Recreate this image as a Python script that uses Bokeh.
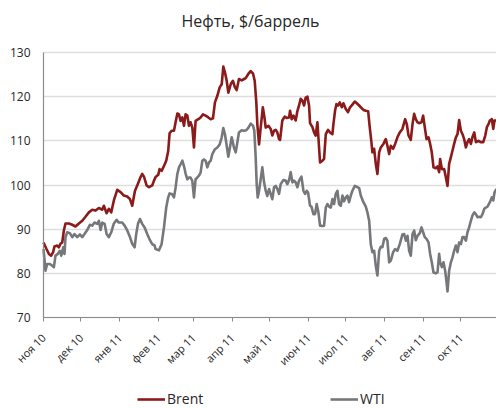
import numpy as np
from bokeh.plotting import figure
from bokeh.models import FixedTicker, Legend, LegendItem, Range1d, Label
from bokeh.embed import file_html
from bokeh.resources import INLINE

title_text = "Нефть, $/баррель"

# x values: days since 2010-11-15
brent_day = [0, 2.4, 4.3, 6.1, 7.7, 8.8, 11, 12.3, 13.6, 15, 16.3, 17.6, 20.3, 23, 25.6, 28.3,
             31, 33.6, 36.3, 39, 41.7, 44.3, 47, 48.3, 50.5, 52.3, 54.2, 56.3, 59, 61.7, 64.3,
             67, 69.2, 71, 73.2, 75, 77.7, 79, 80.4, 82.5, 84.4, 87, 88.4,
             89.7, 91.8, 92.9, 94.5, 96.4, 98.2, 99.8, 100.9, 102.5, 104.4, 105.7, 107.1, 108.4,
             109.7, 111.1, 112.4, 113.7, 115.1, 116.4, 117.7, 119.1, 120.4, 121.7, 123.9, 125.7,
             127.6, 129.7, 131.9, 133.8, 135.6, 137.2, 139.1, 141, 142.6, 143.9, 145.2, 146.6,
             147.9, 149.8, 151.6, 153.2, 154.6, 156.4, 158.6, 160.5, 161.8, 164, 165.8, 167.7,
             169, 170.3, 171.1, 172.5, 173.8, 175.5, 176.8, 177.8, 180,
             181.8, 183.1, 184.5, 185.8, 187.1, 188.5, 189.3, 191.1, 193, 194.6, 196.5, 197.3,
             198.6, 200, 201.8, 203.2, 204.5, 205.8, 207.2, 208.5, 209.8, 211.2, 212.5, 213.3,
             215.2, 216.5, 217.8, 219.2, 220.5, 221.3, 223.2, 224.5, 225.9, 227.7, 229.3, 231.2,
             232, 233.3, 234.4, 235.7, 237.1, 238.7, 240, 241.9, 243.7, 245.3, 247.2, 249.1,
             250.7, 252.6, 253.9, 256, 257.9, 259.8, 260.8, 262.4, 263.2, 264.6, 265.9, 267.2,
             268.6, 269.9, 272,
             273.9, 275.2, 276.6, 277.9, 279.8, 281.4, 283.2, 285.1, 287.2, 289.4, 290.7, 292.1,
             293.9, 295.3, 296.6, 297.9, 299.3, 300.6, 302.5, 303.8, 305.1, 306.5, 308.1, 309.4,
             310.7, 312.1, 313.9, 315.3, 316.6, 317.4, 318.8, 320.6, 322, 323.3, 324.6, 326,
             327.3, 328.6, 330, 331.3, 332.6, 334, 335.3, 336.6, 338, 339.3, 340.6, 342, 343.3,
             344.7, 346, 348.1, 349.9, 351.9, 353.5, 354.8, 356.1, 357.2, 358.8, 359.9, 360.9,
             362.5]
brent = [87.0, 85.5, 84.4, 84.0, 84.8, 86.1, 86.3, 85.9, 86.7, 87.0, 89.7, 91.3, 91.3, 91.0, 90.6, 91.3,
         91.9, 92.8, 93.8, 94.4, 94.2, 94.8, 94.4, 95.3, 93.6, 94.6, 93.8, 96.5, 98.9, 98.4, 97.6,
         97.4, 96.8, 95.3, 98.7, 99.9, 101.8, 102.5, 101.9, 99.9, 99.5, 99.9, 101.0,
         101.8, 102.3, 103.6, 103.2, 104.3, 105.5, 107.7, 111.7, 112.3, 112.3, 114.2, 116.2, 116.0,
         114.5, 115.3, 113.4, 116.0, 115.7, 113.4, 114.2, 113.0, 108.5, 114.5, 114.9, 115.3,
         116.0, 115.7, 115.3, 114.9, 115.1, 118.7, 120.2, 122.1, 122.8, 126.8, 125.5, 123.6,
         120.9, 122.8, 123.6, 122.1, 121.5, 124.0, 123.7, 124.0, 124.2, 125.2, 125.8, 125.2,
         123.6, 118.7, 113.8, 109.2, 113.0, 117.6, 115.3, 113.0, 113.4,
         112.7, 111.2, 112.3, 112.5, 111.9, 110.4, 110.2, 114.6, 115.5, 115.2, 115.3, 116.8,
         114.9, 115.7, 114.6, 116.8, 118.0, 119.5, 119.1, 118.0, 119.8, 120.0, 118.0, 114.0,
         113.1, 111.9, 111.2, 114.2, 108.5, 105.1, 105.5, 105.9, 111.5, 112.5, 111.9, 111.5,
         113.8, 116.8, 118.3, 118.0, 118.7, 117.6, 118.5, 117.2, 116.5, 117.6, 118.2, 118.9,
         118.5, 118.0, 117.6, 117.0, 116.8, 116.7, 113.8, 109.7, 107.4, 108.2, 104.8, 102.5,
         107.4, 108.5, 109.3,
         110.4, 108.9, 107.0, 108.9, 108.2, 109.3, 110.8, 111.9, 112.7, 114.9, 113.8, 111.2,
         110.2, 113.8, 116.1, 114.9, 114.2, 114.0, 114.2, 115.7, 113.1, 110.4, 110.8, 109.3,
         107.4, 104.0, 103.8, 104.2, 102.9, 105.9, 103.6, 103.6, 101.7, 99.8, 104.8, 106.3,
         107.8, 109.3, 110.8, 111.5, 114.7, 112.3, 111.5, 110.4, 108.5, 109.7, 110.4, 109.3, 110.9,
         111.9, 109.7, 110.0, 109.7, 109.7, 111.2, 113.1, 113.8, 114.6, 114.9, 112.7, 114.6,
         114.6]

wti_day = [0, 1.6, 2.9, 5.1, 7, 8.3, 9.6, 11.5, 13.1, 14.2, 15.8, 16.8, 17.6, 19, 21.1, 23, 24.8,
           27, 29.1, 31, 32.8, 35, 37.1, 39, 40.8, 43, 44.3, 45.7, 47, 48.9, 50.5, 52.3, 54.2,
           56.3, 58.5, 60.3, 63, 64.9, 67, 69.2, 71, 72.9, 74.2, 75.6, 77.2, 79, 80.9, 83, 85.2,
           87, 88.9,
           89.7, 92.4, 94.5, 96.4, 98.2, 99.8, 100.9, 103, 104.4, 105.7, 107.1, 108.4, 109.7,
           111.1, 112.4, 113.7, 115.1, 116.4, 117.7, 119.1, 120.4, 121.7, 123.1, 124.4, 125.7,
           127.1, 128.4, 129.7, 131.1, 132.4, 133.8, 135.1, 137.2, 139.1, 141, 142.6, 143.9,
           145.2, 146.6, 147.9, 149.2, 150.6, 152.4, 153.8, 155.1, 156.4, 158.6, 160.5, 162.3,
           164, 165.8, 167.7, 168.7, 169.8, 170.6, 171.4, 172.5, 173.8, 175.1, 176.5, 177.8,
           179.1, 180.5,
           181.8, 183.1, 184.5, 185.8, 187.1, 188.5, 189.8, 191.9, 193.8, 195.1, 196.5, 197.8,
           199.2, 200.5, 201.8, 203.2, 204.5, 206.4, 208, 209.3, 210.6, 211.7, 213.3, 214.4,
           216, 217.3, 218.6, 220, 221.3, 223.2, 224.5, 225.9, 227.2, 228.5, 229.9, 231.2,
           232.5, 233.9, 235.2, 236.5, 237.9, 239.2, 240.5, 241.9, 243.2, 244.5, 245.9, 247.2,
           249.1, 250.7, 252.6, 253.9, 256, 257.9, 259.2, 260.6, 261.9, 263.2, 264.6, 265.9,
           267.2, 268.6, 269.9, 271.2, 272.6,
           273.9, 275.2, 276.6, 277.9, 279.8, 281.4, 283.2, 285.1, 287.2, 288.6, 290, 291.3,
           292.6, 293.9, 295.3, 296.6, 297.9, 299.3, 301.1, 302.5, 303.8, 305.1, 306.5, 308.1,
           309.4, 310.7, 312.1, 313.9, 315.3, 316.6, 317.4, 318.8, 320.1, 321.4, 322.5, 323.3,
           324.6, 326, 327.3, 328.6, 330, 331.3, 332.6, 334, 335.3, 336.6, 338, 339.3, 340.6,
           342, 343.3, 344.7, 346, 347.3, 348.7, 350, 351.3, 352.7, 354, 355.3, 357.2, 358.8,
           359.9, 360.9, 362.5]
wti = [85.5, 80.6, 82.1, 82.1, 81.7, 81.4, 84.0, 84.4, 85.1, 84.0, 85.9, 84.4, 88.2, 89.3, 89.1, 88.2, 88.9,
       88.2, 88.8, 88.2, 88.9, 89.8, 91.0, 90.8, 91.5, 91.2, 91.9, 89.8, 91.5, 91.2, 88.9, 88.2, 89.3,
       91.3, 92.1, 91.5, 91.5, 90.8, 89.7, 88.2, 86.7, 85.9, 88.9, 91.2, 92.3, 91.2, 90.4, 88.9, 87.5,
       86.6, 86.3,
       85.5, 85.2, 86.6, 90.4, 94.9, 97.2, 98.1, 97.9, 97.2, 99.4, 102.5, 104.0, 104.7,
       105.5, 104.3, 102.6, 101.3, 101.7, 101.7, 100.9, 97.2, 101.3, 101.7, 102.1, 102.8,
       105.5, 105.8, 105.5, 104.0, 105.1, 105.5, 107.0, 108.1, 108.5, 109.2, 110.8, 112.9,
       111.5, 108.9, 106.4, 108.5, 110.8, 108.5, 107.4, 109.6, 111.9, 112.4, 112.3, 112.4,
       113.0, 113.9, 113.4, 112.3, 106.2, 100.2, 97.2, 98.7, 101.3, 104.0, 100.6, 98.7,
       97.5, 99.1,
       98.0, 96.8, 99.5, 99.8, 99.1, 98.0, 100.2, 101.1, 101.0, 100.2, 101.1, 102.9,
       100.6, 101.0, 100.6, 99.5, 101.0, 101.9, 98.7, 98.0, 98.7, 98.3, 95.3, 95.1,
       93.4, 93.4, 95.7, 93.8, 90.8, 90.7, 90.8, 94.9, 95.7, 95.1, 94.9, 96.8,
       95.7, 98.0, 98.7, 95.7, 95.3, 97.6, 96.3, 97.2, 97.6, 96.1, 97.6, 98.7,
       99.8, 99.6, 99.3, 97.6, 96.1, 95.1, 93.8, 91.9, 86.6, 84.8, 85.1, 81.7,
       79.5, 85.1, 86.0, 85.9, 87.8,
       88.0, 87.4, 82.5, 82.9, 84.8, 85.5, 85.1, 86.6, 88.8, 88.9, 87.4, 88.5,
       85.1, 84.0, 88.9, 89.7, 87.5, 88.5, 89.1, 90.4, 89.3, 88.2, 87.8, 87.0,
       84.4, 82.5, 80.2, 80.0, 80.2, 84.4, 82.5, 81.4, 82.5, 80.6, 78.0, 75.9,
       80.6, 82.5, 83.6, 85.1, 86.3, 84.8, 87.0, 86.6, 88.2, 88.2, 87.4, 89.3, 90.4,
       91.9, 93.1, 93.8, 93.4, 92.7, 92.8, 92.7, 93.4, 94.6, 94.9, 95.1, 96.1, 97.2,
       96.5, 98.3, 99.1]

tick_day = [0, 30, 61, 92, 120, 151, 181, 212, 242, 273, 304, 334]
tick_label = ["ноя 10", "дек 10", "янв 11", "фев 11", "мар 11", "апр 11",
              "май 11", "июн 11", "июл 11", "авг 11", "сен 11", "окт 11"]
y_ticks = [70, 80, 90, 100, 110, 120, 130]
y_lo, y_hi = 70, 130
x_lo, x_hi = 0, 362.5

FONT = "Open Sans"
TXT = "#262626"
AX = "#8c8c8c"

# layout (pixels): the frame covers the whole canvas; the price area spans
# PLOT_LEFT..W and PLOT_TOP..PLOT_BOTTOM, axes are pinned to its edges.
W, H = 496, 408
PLOT_LEFT, PLOT_TOP, PLOT_BOTTOM = 43, 52, 317
ky = (PLOT_BOTTOM - PLOT_TOP) / (y_hi - y_lo)
kx = (W - PLOT_LEFT) / (x_hi - x_lo)
y_range = Range1d(y_lo - (H - PLOT_BOTTOM) / ky, y_hi + PLOT_TOP / ky)
x_range = Range1d(x_lo - PLOT_LEFT / kx, x_hi)

p = figure(width=W, height=H, output_backend="svg", toolbar_location=None, title=None,
           x_range=x_range, y_range=y_range,
           min_border_left=0, min_border_right=0, min_border_top=0, min_border_bottom=0)
p.outline_line_color = None
p.background_fill_color = "white"

p.xgrid.visible = False
gridded = True
try:
    p.ygrid.cross_bounds = (x_lo, x_hi)
except AttributeError:
    gridded = False
if gridded:
    p.ygrid.ticker = FixedTicker(ticks=y_ticks)
    p.ygrid.grid_line_color = "#dedede"
    p.ygrid.grid_line_width = 1.3
else:
    p.ygrid.visible = False
    p.segment(x0=[x_lo] * len(y_ticks), x1=[x_hi] * len(y_ticks), y0=y_ticks, y1=y_ticks,
              line_color="#dedede", line_width=1.3)

rw = p.line(wti_day, wti, line_color="#76777b", line_width=2.6, line_join="round")
rb = p.line(brent_day, brent, line_color="#8b1a1a", line_width=2.6, line_join="round")

xa = p.xaxis[0]
xa.fixed_location = y_lo
xa.bounds = (x_lo, x_hi)
xa.ticker = FixedTicker(ticks=tick_day)
xa.major_label_overrides = {d: lab for d, lab in zip(tick_day, tick_label)}
xa.major_label_orientation = np.pi / 4
xa.minor_tick_line_color = None
xa.major_tick_in = 0
xa.major_tick_out = 4
xa.major_tick_line_color = AX
xa.axis_line_color = AX
xa.axis_line_width = 1.2
xa.major_label_standoff = 14
xa.major_label_text_font = FONT
xa.major_label_text_font_size = "11px"
xa.major_label_text_color = TXT

ya = p.yaxis[0]
ya.fixed_location = x_lo
ya.bounds = (y_lo, y_hi)
ya.ticker = FixedTicker(ticks=y_ticks)
ya.minor_tick_line_color = None
ya.major_tick_in = 0
ya.major_tick_out = 0
ya.axis_line_color = AX
ya.axis_line_width = 1.2
ya.major_label_standoff = 13
ya.major_label_text_font = FONT
ya.major_label_text_font_size = "12px"
ya.major_label_text_color = TXT

title = Label(x=250, y=H - 20, x_units="screen", y_units="screen", text=title_text,
              text_align="center", text_baseline="middle", text_font=FONT,
              text_font_size="16px", text_color=TXT)
p.add_layout(title)

legend = Legend(items=[LegendItem(label="Brent", renderers=[rb]),
                       LegendItem(label="WTI", renderers=[rw])],
                orientation="horizontal", location=(137, 0),
                glyph_width=28, glyph_height=14, label_height=14, label_width=43,
                label_standoff=2, spacing=120, padding=0, margin=0,
                border_line_color=None, background_fill_alpha=0,
                label_text_font=FONT, label_text_font_size="14px", label_text_color=TXT)
p.add_layout(legend)

open("out.html", "w").write(file_html(p, INLINE))
